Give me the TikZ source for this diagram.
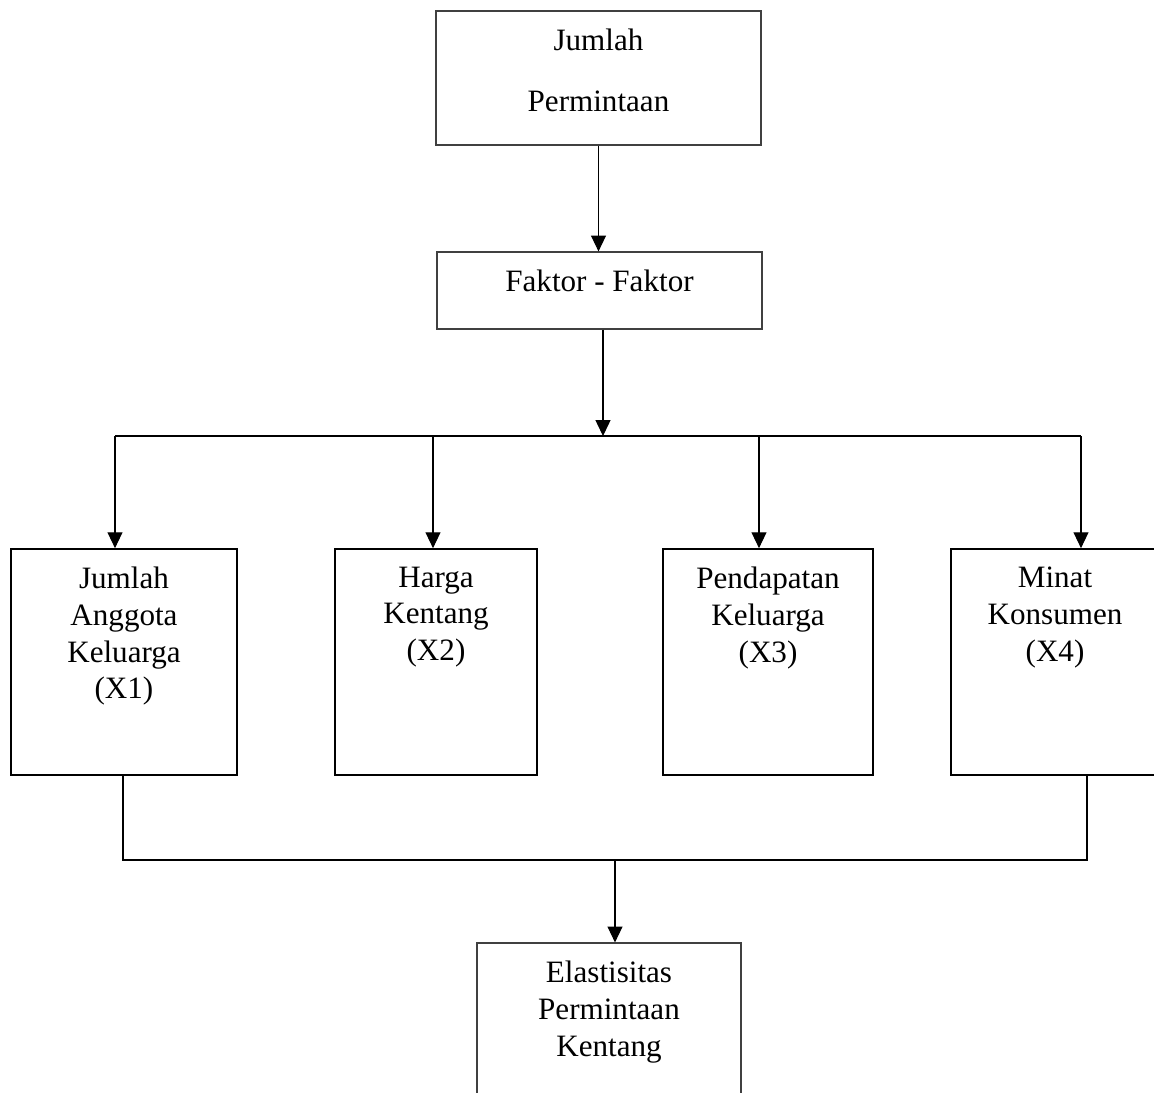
\documentclass[tikz,border=0pt]{standalone}
\usepackage{fontspec}
\setmainfont{Liberation Serif}
\usetikzlibrary{arrows.meta, positioning}

\begin{document}
\begin{tikzpicture}[x=0.02cm, y=-0.02cm,
        mainbox/.style={draw=black!75, line width=0.7pt, minimum width=6.5cm},
        factorbox/.style={draw, line width=1pt, minimum height=4.52cm},
        boxtext/.style={anchor=north, align=center, yshift=-7pt, font=\fontsize{17.7}{21}\selectfont},
        link/.style={-{Triangle[length=9pt, width=8.5pt]}, line width=0.6pt},
        joinline/.style={line width=1pt}]
             \useasboundingbox (0,0) rectangle (1154,1093);
             \node[mainbox, minimum height=2.68cm, label={[boxtext]north:Jumlah\\[13.5pt]Permintaan}] (jumlah) at (598.5,78) {};
             \node[mainbox, minimum height=1.54cm, label={[boxtext]north:Faktor - Faktor}] (faktor) at (599.5,290.5) {};
             \node[factorbox, minimum width=4.52cm, label={[boxtext]north:Jumlah\\Anggota\\Keluarga\\(X1)}] (x1) at (124,662) {};
             \node[factorbox, minimum width=4.04cm, label={[boxtext]north:Harga\\Kentang\\(X2)}] (x2) at (436,662) {};
             \node[factorbox, minimum width=4.2cm, label={[boxtext]north:Pendapatan\\Keluarga\\(X3)}] (x3) at (768,662) {};
             \node[factorbox, minimum width=4.16cm, label={[boxtext]north:Minat\\Konsumen\\(X4)}] (x4) at (1055,662) {};
             \node[draw=black!75, line width=0.7pt, minimum width=5.28cm, minimum height=4cm, label={[boxtext]north:Elastisitas\\Permintaan\\Kentang}] (elastis) at (609,1043) {};
             \coordinate (split) at (603,436);
             \coordinate (b1) at (115,436);
             \coordinate (b2) at (433,436);
             \coordinate (b3) at (759,436);
             \coordinate (b4) at (1081,436);
             \coordinate (j1) at (123,860);
             \coordinate (j4) at (1087,860);
             \coordinate (merge) at (615,860);
             \draw[link] (jumlah.south) -- (jumlah.south |- faktor.north);
             \draw[link] (faktor.south -| split) -- (split);
             \draw[line width=0.6pt] (b1) -- (b4);
             \foreach \b/\n in {b1/x1, b2/x2, b3/x3, b4/x4}
                 \draw[link] (\b) -- (\b |- \n.north);
             \draw[joinline] (x1.south -| j1) -- (j1) -- (j4) -- (x4.south -| j4);
             \draw[link] (merge) -- (merge |- elastis.north);
\end{tikzpicture}
\end{document}
